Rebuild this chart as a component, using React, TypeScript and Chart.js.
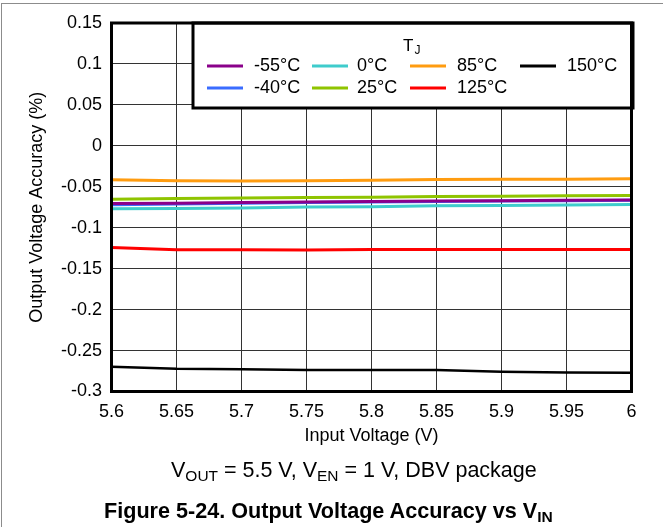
import React, { useEffect, useRef } from 'react';
import { Chart, registerables } from 'chart.js';

Chart.register(...registerables);

const FONT = '"Liberation Sans", Arial, Helvetica, sans-serif';

// ---- data ----
const inputVoltage = [5.6, 5.65, 5.7, 5.75, 5.8, 5.85, 5.9, 5.95, 6.0];
const seriesLabels = ['-55°C', '-40°C', '0°C', '25°C', '85°C', '125°C', '150°C'];
const seriesColors = ['#8a008a', '#3a6cff', '#3fcccc', '#8fc400', '#ff9c10', '#ff0000', '#000000'];
const accM55 = [-0.0705, -0.07, -0.0693, -0.0687, -0.068, -0.0675, -0.067, -0.0665, -0.066];
const accM40 = [-0.0718, -0.071, -0.07, -0.0693, -0.0687, -0.068, -0.0675, -0.067, -0.0665];
const acc0 = [-0.0768, -0.0764, -0.076, -0.0748, -0.0744, -0.0732, -0.0728, -0.0724, -0.0716];
const acc25 = [-0.0652, -0.0644, -0.0636, -0.0632, -0.0627, -0.0619, -0.0615, -0.0611, -0.0606];
const acc85 = [-0.0413, -0.0425, -0.0429, -0.0427, -0.042, -0.041, -0.0408, -0.0407, -0.0403];
const acc125 = [-0.1243, -0.1268, -0.1269, -0.1271, -0.1266, -0.1265, -0.1265, -0.1265, -0.1265];
const acc150 = [-0.2698, -0.2722, -0.2727, -0.2736, -0.2736, -0.2736, -0.276, -0.2768, -0.2772];
const seriesValues = [accM55, accM40, acc0, acc25, acc85, acc125, acc150];
const seriesWidths = [3, 3, 3, 3, 3, 3, 2.5];

const xTickValues = [5.6, 5.65, 5.7, 5.75, 5.8, 5.85, 5.9, 5.95, 6.0];
const xTickLabels = ['5.6', '5.65', '5.7', '5.75', '5.8', '5.85', '5.9', '5.95', '6'];
const yTickValues = [0.15, 0.1, 0.05, 0, -0.05, -0.1, -0.15, -0.2, -0.25, -0.3];
const yTickLabels = ['0.15', '0.1', '0.05', '0', '-0.05', '-0.1', '-0.15', '-0.2', '-0.25', '-0.3'];

const legendTitle = 'T';
const legendTitleSub = 'J';
const xTitle = 'Input Voltage (V)';
const yTitle = 'Output Voltage Accuracy (%)';

const boxLegendPlugin = {
  id: 'boxLegend',
  afterDatasetsDraw(chart: any) {
    const { ctx, chartArea: a } = chart;
    const left = a.left + 81.5;
    const top = a.top;
    const right = a.right + 1.5;
    const bottom = a.top + 85;
    ctx.save();
    ctx.fillStyle = '#fff';
    ctx.fillRect(left, top, right - left, bottom - top);
    ctx.lineWidth = 3;
    ctx.strokeStyle = '#000';
    ctx.strokeRect(left, top, right - left, bottom - top);
    ctx.fillStyle = '#000';
    ctx.textBaseline = 'middle';
    ctx.textAlign = 'left';
    ctx.font = `17px ${FONT}`;
    ctx.fillText(legendTitle, left + 210, top + 23);
    const tw = ctx.measureText(legendTitle).width;
    ctx.font = `12px ${FONT}`;
    ctx.fillText(legendTitleSub, left + 210 + tw + 1, top + 28);
    const colSample = [14, 119, 217, 327];
    const colText = [61, 164, 264, 374];
    const rowY = [43, 65];
    chart.data.datasets.forEach((ds: any, i: number) => {
      const c = Math.floor(i / 2);
      const r = i % 2;
      const y = top + rowY[r];
      ctx.strokeStyle = ds.borderColor;
      ctx.lineWidth = 3;
      ctx.beginPath();
      ctx.moveTo(left + colSample[c], y);
      ctx.lineTo(left + colSample[c] + 36, y);
      ctx.stroke();
      ctx.font = `18px ${FONT}`;
      ctx.fillStyle = '#000';
      ctx.fillText(ds.label, left + colText[c], y);
    });
    ctx.restore();
  },
};

const framePlugin = {
  id: 'plotFrame',
  afterDraw(chart: any) {
    const { ctx, chartArea: a } = chart;
    ctx.save();
    ctx.strokeStyle = '#000';
    ctx.lineWidth = 3;
    ctx.strokeRect(a.left, a.top, a.right - a.left, a.bottom - a.top);
    ctx.restore();
  },
};

function ChartCanvas() {
  const ref = useRef<HTMLCanvasElement>(null);
  useEffect(() => {
    if (!ref.current) return;
    const chart = new Chart(ref.current, {
      type: 'line',
      data: {
        datasets: seriesLabels.map((label, i) => ({
          label,
          data: inputVoltage.map((x, j) => ({ x, y: seriesValues[i][j] })),
          borderColor: seriesColors[i],
          backgroundColor: seriesColors[i],
          borderWidth: seriesWidths[i],
          pointRadius: 0,
          tension: 0,
          fill: false,
        })),
      },
      options: {
        animation: false,
        responsive: false,
        devicePixelRatio: 1,
        layout: { padding: { top: 23, right: 31.5, left: 0, bottom: 0 } },
        plugins: { legend: { display: false }, tooltip: { enabled: false } },
        scales: {
          x: {
            type: 'linear',
            min: 5.6,
            max: 6,
            afterBuildTicks: (s: any) => {
              s.ticks = xTickValues.map((v) => ({ value: v }));
            },
            afterFit: (s: any) => {
              s.height = 68.5;
            },
            ticks: {
              callback: (_v: any, i: number) => xTickLabels[i],
              color: '#000',
              font: { family: FONT, size: 18 },
              padding: 10,
              maxRotation: 0,
              autoSkip: false,
            },
            grid: { color: '#333', lineWidth: 1, drawTicks: false },
            border: { display: false },
            title: {
              display: true,
              text: xTitle,
              color: '#000',
              font: { family: FONT, size: 18 },
              padding: { top: 0, bottom: 13 },
            },
          },
          y: {
            type: 'linear',
            min: -0.3,
            max: 0.15,
            afterBuildTicks: (s: any) => {
              s.ticks = yTickValues.map((v) => ({ value: v }));
            },
            afterFit: (s: any) => {
              s.width = 111.5;
            },
            ticks: {
              callback: (_v: any, i: number) => yTickLabels[i],
              color: '#000',
              font: { family: FONT, size: 18 },
              padding: 9.5,
              autoSkip: false,
            },
            grid: { color: '#333', lineWidth: 1, drawTicks: false },
            border: { display: false },
            title: {
              display: true,
              text: yTitle,
              color: '#000',
              font: { family: FONT, size: 18 },
              padding: { top: 26, bottom: 0 },
            },
          },
        },
      },
      plugins: [boxLegendPlugin, framePlugin],
    } as any);
    return () => chart.destroy();
  }, []);
  return <canvas ref={ref} width={663} height={460} style={{ position: 'absolute', left: 0, top: 0, width: 663, height: 460 }} />;
}

const subStyle: React.CSSProperties = { fontSize: '0.72em', verticalAlign: '-0.28em', lineHeight: 0 };

export default function App() {
  return (
    <div style={{ position: 'absolute', left: 0, top: 0, width: 663, height: 527, background: '#fff', overflow: 'hidden', fontFamily: FONT }}>
      <div style={{ position: 'absolute', left: 1, top: 3, width: 670, height: 530, borderTop: '1.5px solid #8c8c8c', borderLeft: '1.5px solid #8c8c8c' }} />
      <ChartCanvas />
      <div style={{ position: 'absolute', left: 171, top: 459.5, fontSize: 21.5, lineHeight: 1, whiteSpace: 'nowrap', color: '#000' }}>
        V<span style={subStyle}>OUT</span> = 5.5 V, V<span style={subStyle}>EN</span> = 1 V, DBV package
      </div>
      <div style={{ position: 'absolute', left: 104, top: 500, fontSize: 21.6, fontWeight: 'bold', lineHeight: 1, whiteSpace: 'nowrap', color: '#000' }}>
        Figure 5-24. Output Voltage Accuracy vs V<span style={subStyle}>IN</span>
      </div>
    </div>
  );
}
